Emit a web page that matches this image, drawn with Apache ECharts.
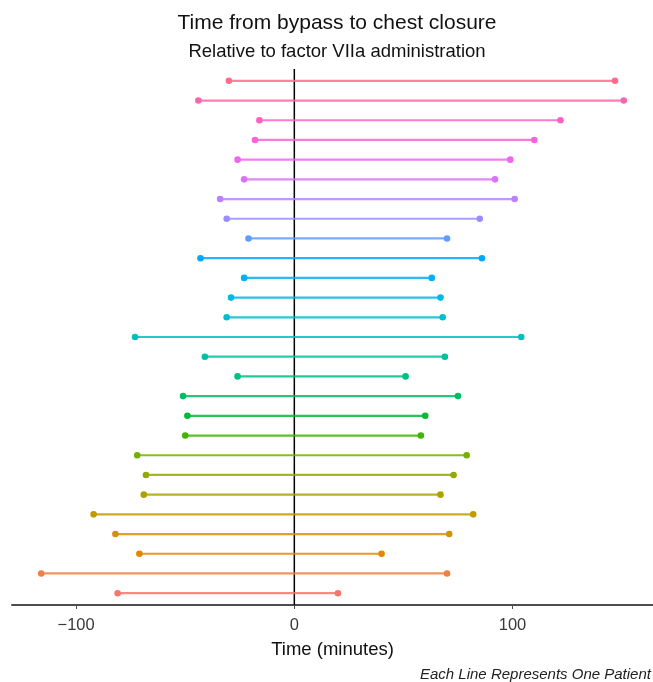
<!DOCTYPE html>
<html>
<head>
<meta charset="utf-8">
<script src="https://cdn.jsdelivr.net/npm/echarts@6/dist/echarts.min.js"></script>
<style>
html,body{margin:0;padding:0;background:#fff;}
#chart{width:653px;height:682px;}
</style>
</head>
<body>
<div id="chart"></div>
<script>
// Patients listed bottom (1) to top (27)
const patients = ['1','2','3','4','5','6','7','8','9','10','11','12','13','14','15','16','17','18','19','20','21','22','23','24','25','26','27'];
const startTimes = [-81,-116,-71,-82,-92,-69,-68,-72,-50,-49,-51,-26,-41,-73,-31,-29,-23,-43,-21,-31,-34,-23,-26,-18,-16,-44,-30];
const endTimes   = [20,70,40,71,82,67,73,79,58,60,75,51,69,104,68,67,63,86,70,85,101,92,99,110,122,151,147];
const xTicks = [-100, 0, 100];

// ggplot2-like hue palette (HCL, l=65, c=100) -> sRGB
function hcl2hex(h, c, l) {
  const hr = h * Math.PI / 180;
  const U = c * Math.cos(hr), V = c * Math.sin(hr);
  const Xn = 95.047, Yn = 100.0, Zn = 108.883;
  const Y = l > 8 ? Yn * Math.pow((l + 16) / 116, 3) : Yn * l / 903.3;
  const den = Xn + 15 * Yn + 3 * Zn;
  const un = 4 * Xn / den, vn = 9 * Yn / den;
  const up = U / (13 * l) + un, vp = V / (13 * l) + vn;
  const X = 9.0 * Y * up / (4 * vp);
  const Z = -X / 3 - 5 * Y + 3 * Y / vp;
  const x = X / 100, y = Y / 100, z = Z / 100;
  let r = 3.240479 * x - 1.537150 * y - 0.498535 * z;
  let g = -0.969256 * x + 1.875992 * y + 0.041556 * z;
  let b = 0.055648 * x - 0.204043 * y + 1.057311 * z;
  const gam = v => { v = v > 0.0031308 ? 1.055 * Math.pow(v, 1 / 2.4) - 0.055 : 12.92 * v; return Math.round(Math.min(1, Math.max(0, v)) * 255); };
  return '#' + [gam(r), gam(g), gam(b)].map(v => v.toString(16).padStart(2, '0')).join('');
}
const n = patients.length;
const colors = patients.map((p, i) => hcl2hex(15 + 360 * i / n, 100, 65));

const rows = patients.map((p, i) => [startTimes[i], endTimes[i], i + 1]);

const chart = echarts.init(document.getElementById('chart'), null, {renderer: 'canvas'});
const FONT = '"Liberation Sans", Arial, sans-serif';

chart.setOption({
  animation: false,
  backgroundColor: '#fff',
  title: [
    {text: 'Time from bypass to chest closure', left: 332, textAlign: 'center', top: 8,
     textStyle: {fontFamily: FONT, fontSize: 21, fontWeight: 'normal', color: '#111'}},
    {text: 'Relative to factor VIIa administration', left: 332, textAlign: 'center', top: 37,
     textStyle: {fontFamily: FONT, fontSize: 18.5, fontWeight: 'normal', color: '#111'}}
  ],
  grid: {left: 12, right: 0, top: 69, bottom: 77, containLabel: false},
  xAxis: {
    type: 'value', min: -129.4, max: 164.4,
    splitLine: {show: false},
    axisLine: {show: true, lineStyle: {color: '#4d4d4d', width: 2}},
    axisTick: {show: true, customValues: xTicks, length: 4, lineStyle: {color: '#4d4d4d', width: 1}},
    axisLabel: {customValues: xTicks, margin: 12, fontFamily: FONT, fontSize: 16.5, color: '#3a3a3a',
      formatter: v => (v < 0 ? '\u2212' + Math.abs(v) : String(v))},
    name: 'Time (minutes)', nameLocation: 'middle', nameGap: 35,
    nameTextStyle: {fontFamily: FONT, fontSize: 18.5, color: '#111'}
  },
  yAxis: {
    type: 'value', min: 0.4, max: 27.6, show: false
  },
  series: [
    {
      type: 'line', data: [[0, 0.4], [0, 27.6]], symbol: 'none', silent: true,
      lineStyle: {color: '#000', width: 1.5}, z: 1
    },
    {
      type: 'custom', z: 2,
      data: rows,
      encode: {x: [0, 1], y: 2},
      renderItem: function (params, api) {
        const a = api.coord([api.value(0), api.value(2)]);
        const b = api.coord([api.value(1), api.value(2)]);
        const col = colors[params.dataIndex];
        return {
          type: 'group',
          children: [
            {type: 'line', shape: {x1: a[0], y1: a[1], x2: b[0], y2: b[1]},
             style: {stroke: col, lineWidth: 2.2, opacity: 0.85}},
            {type: 'circle', shape: {cx: a[0], cy: a[1], r: 3.3}, style: {fill: col}},
            {type: 'circle', shape: {cx: b[0], cy: b[1], r: 3.3}, style: {fill: col}}
          ]
        };
      }
    }
  ],
  graphic: [
    {type: 'text', left: 420, top: 667,
     style: {text: 'Each Line Represents One Patient', fontFamily: FONT, fontSize: 15, fontStyle: 'italic', fill: '#222'}}
  ]
});
</script>
</body>
</html>
